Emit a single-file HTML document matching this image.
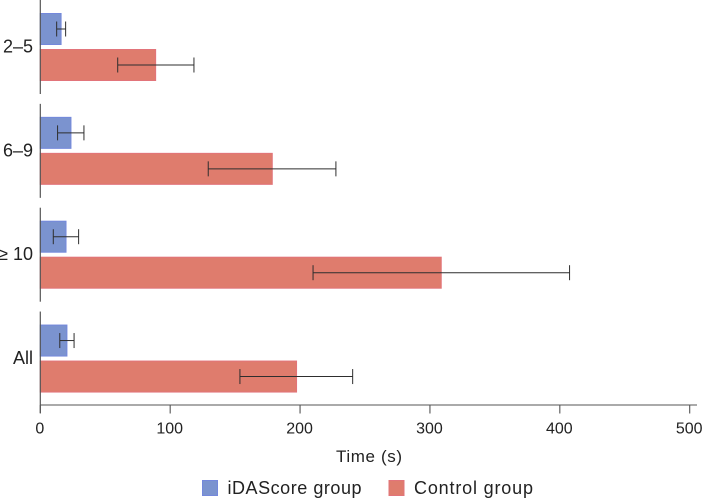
<!DOCTYPE html>
<html lang="en">
<head>
<meta charset="utf-8">
<title>Time by group</title>
<style>
  html, body { margin: 0; padding: 0; background: #fff; }
  svg { display: block; font-family: "Liberation Sans", sans-serif; }
  text { fill: #222; }
</style>
</head>
<body>
<svg id="chart" width="704" height="498" viewBox="0 0 704 498" xmlns="http://www.w3.org/2000/svg"></svg>
<script>
const categories = ['2–5', '6–9', '≥ 10', 'All'];
const iDAScoreValues = [16, 23.6, 19.8, 20.5];
const iDAScoreLow = [12.6, 13.3, 10, 15];
const iDAScoreHigh = [19.5, 33.6, 29.5, 26];
const controlValues = [88.8, 178.6, 308.7, 197.3];
const controlLow = [59.6, 129.3, 210, 153.7];
const controlHigh = [118.3, 227.6, 407.5, 240.5];
const xTicks = [0, 100, 200, 300, 400, 500];

const svg = document.getElementById('chart');
const NS = 'http://www.w3.org/2000/svg';
const xScale = v => 40.3 + v * 1.2988;
const bandTop = i => 103.85 * i;
const blueY = i => bandTop(i) + 13.5;
const redY = i => bandTop(i) + 49.5;
const barH = 31;

function make(tag, attrs, parent) {
  const el = document.createElementNS(NS, tag);
  for (const k in attrs) el.setAttribute(k, attrs[k]);
  (parent || svg).appendChild(el);
  return el;
}

function drawBar(v, y, fill, stroke, name) {
  const bar = make('rect', { x: xScale(0), y: y, width: xScale(v) - xScale(0), height: barH, fill: fill, stroke: stroke, 'stroke-width': 1 });
  
  
}

function drawError(lo, hi, cy, name) {
  const g = make('g', { stroke: '#2e2e2e', 'stroke-width': 1, fill: 'none' });
  
  
  make('line', { x1: xScale(lo), x2: xScale(hi), y1: cy, y2: cy }, g);
  make('line', { x1: xScale(lo), x2: xScale(lo), y1: cy - 7.5, y2: cy + 7.5 }, g);
  make('line', { x1: xScale(hi), x2: xScale(hi), y1: cy - 7.5, y2: cy + 7.5 }, g);
}

categories.forEach((c, i) => {
  const slug = c.replace(/[^A-Za-z0-9]+/g, '-').replace(/^-|-$/g, '').toLowerCase();
  drawBar(iDAScoreValues[i], blueY(i), '#7b93cf', '#7488dc', 'bar-idascore-' + slug);
  drawBar(controlValues[i], redY(i), '#df7c6d', '#e2747a', 'bar-control-' + slug);
  drawError(iDAScoreLow[i], iDAScoreHigh[i], blueY(i) + barH / 2, 'error-bar-idascore-' + slug);
  drawError(controlLow[i], controlHigh[i], redY(i) + barH / 2, 'error-bar-control-' + slug);

  const spine = make('line', {
    x1: xScale(0), x2: xScale(0),
    y1: i === 0 ? 0 : bandTop(i),
    y2: i === 3 ? 413 : bandTop(i) + 94,
    stroke: '#555', 'stroke-width': 1.2
  });
  
  

  const label = make('text', { x: 33, y: bandTop(i) + 52.5, 'text-anchor': 'end', 'font-size': 18 });
  label.textContent = c;
  
  
});

const xAxis = make('line', { x1: xScale(0), x2: 697, y1: 405, y2: 405, stroke: '#555', 'stroke-width': 1.1 });



xTicks.forEach(t => {
  const tick = make('line', { x1: xScale(t), x2: xScale(t), y1: 405, y2: 413.5, stroke: '#555', 'stroke-width': 1.1 });
  
  
  const label = make('text', { x: xScale(t) - 0.5, y: 433.5, 'text-anchor': 'middle', 'font-size': 16 });
  label.textContent = t;
  
  
});
</script>
<script>
(function () {
  const s = document.getElementById('chart');
  const ns = 'http://www.w3.org/2000/svg';

  const title = document.createElementNS(ns, 'text');
  title.setAttribute('x', 336);
  title.setAttribute('y', 462);
  title.setAttribute('font-size', 17);
  title.setAttribute('textLength', 66);
  
  
  title.textContent = 'Time (s)';
  s.appendChild(title);

  const swatchA = document.createElementNS(ns, 'rect');
  swatchA.setAttribute('x', 202.5);
  swatchA.setAttribute('y', 480.5);
  swatchA.setAttribute('width', 15);
  swatchA.setAttribute('height', 15);
  swatchA.setAttribute('fill', '#7b93cf');
  swatchA.setAttribute('stroke', '#7488dc');
  
  
  s.appendChild(swatchA);

  const textA = document.createElementNS(ns, 'text');
  textA.setAttribute('x', 227.5);
  textA.setAttribute('y', 494);
  textA.setAttribute('font-size', 18);
  textA.setAttribute('textLength', 134);
  
  
  textA.textContent = 'iDAScore group';
  s.appendChild(textA);

  const swatchB = document.createElementNS(ns, 'rect');
  swatchB.setAttribute('x', 389);
  swatchB.setAttribute('y', 480.5);
  swatchB.setAttribute('width', 15);
  swatchB.setAttribute('height', 15);
  swatchB.setAttribute('fill', '#df7c6d');
  swatchB.setAttribute('stroke', '#e2747a');
  
  
  s.appendChild(swatchB);

  const textB = document.createElementNS(ns, 'text');
  textB.setAttribute('x', 414);
  textB.setAttribute('y', 494);
  textB.setAttribute('font-size', 18);
  textB.setAttribute('textLength', 119);
  
  
  textB.textContent = 'Control group';
  s.appendChild(textB);
})();
</script>
</body>
</html>
